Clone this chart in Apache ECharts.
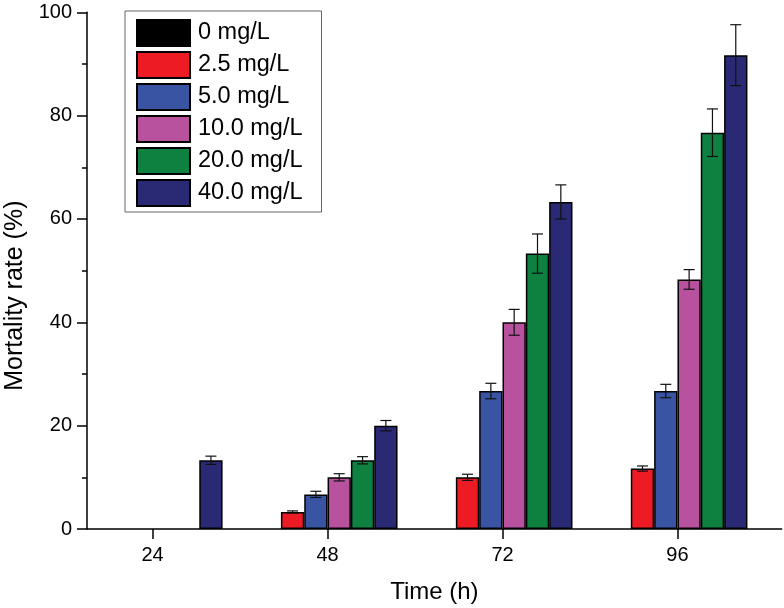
<!DOCTYPE html>
<html><head><meta charset="utf-8">
<script src="https://cdn.jsdelivr.net/npm/echarts@6/dist/echarts.min.js"></script>
<style>html,body{margin:0;padding:0;background:#fff}#c{width:784px;height:608px}</style>
</head><body><div id="c"></div>
<script>
// ---- data ----
const times = [24, 48, 72, 96];
const seriesNames = ['0 mg/L', '2.5 mg/L', '5.0 mg/L', '10.0 mg/L', '20.0 mg/L', '40.0 mg/L'];
const mort0   = [0, 0, 0, 0];
const mort25  = [0, 3.3, 10.0, 11.7];
const mort50  = [0, 6.7, 26.7, 26.7];
const mort100 = [0, 10.0, 40.0, 48.3];
const mort200 = [0, 13.3, 53.3, 76.7];
const mort400 = [13.3, 20.0, 63.3, 91.7];
const err0   = [0, 0, 0, 0];
const err25  = [0, 0.2, 0.6, 0.5];
const err50  = [0, 0.6, 1.5, 1.3];
const err100 = [0, 0.7, 2.5, 1.9];
const err200 = [0, 0.7, 3.8, 4.6];
const err400 = [0.8, 1.0, 3.3, 5.9];
const xTicks = [24, 48, 72, 96];
// ---- styling ----
const colors = ['#000000', '#ED1C24', '#3A54A4', '#B8519E', '#0E8140', '#292A73'];
const FONT = '"Liberation Sans", Arial, sans-serif';

const means = [mort0, mort25, mort50, mort100, mort200, mort400];
const errs = [err0, err25, err50, err100, err200, err400];
const nSeries = means.length;
const gap = times[1] - times[0];

const barSeries = means.map((arr, k) => ({
  name: seriesNames[k],
  type: 'bar',
  data: arr.map((v, i) => v === 0
    ? { value: [times[i], v], itemStyle: { borderWidth: 0 } }
    : [times[i], v]),
  barGap: '0%',
  barCategoryGap: '20%',
  itemStyle: { color: colors[k], borderColor: '#000', borderWidth: 1.5 },
  emphasis: { disabled: true },
  z: 2
}));

const errData = [];
means.forEach((arr, k) => arr.forEach((v, i) => {
  errData.push([times[i], v, errs[k][i], k]);
}));

const errSeries = {
  type: 'custom',
  data: errData,
  z: 5,
  silent: true,
  renderItem(params, api) {
    const x = api.value(0), y = api.value(1), e = api.value(2), k = api.value(3);
    if (!e) return null;
    const band = api.size([gap, 0])[0];
    const bw = band * 0.8 / nSeries;
    const cx = api.coord([x, y])[0] + (k - (nSeries - 1) / 2) * bw;
    const top = api.coord([x, y + e])[1];
    const bot = api.coord([x, y - e])[1];
    const cap = 5.5;
    const st = { stroke: '#111', lineWidth: 1.2 };
    return { type: 'group', children: [
      { type: 'line', shape: { x1: cx, y1: top, x2: cx, y2: bot }, style: st },
      { type: 'line', shape: { x1: cx - cap, y1: top, x2: cx + cap, y2: top }, style: st },
      { type: 'line', shape: { x1: cx - cap, y1: bot, x2: cx + cap, y2: bot }, style: st }
    ]};
  }
};

const chart = echarts.init(document.getElementById('c'), null, { renderer: 'canvas' });
chart.setOption({
  animation: false,
  backgroundColor: '#fff',
  textStyle: { fontFamily: FONT },
  grid: { left: 87, right: 2.3, top: 12.3, bottom: 79, containLabel: false, outerBoundsMode: 'none' },
  legend: {
    orient: 'vertical',
    left: 125, top: 11,
    itemWidth: 53, itemHeight: 26, itemGap: 4,
    padding: [8, 19, 5, 11],
    borderColor: '#666', borderWidth: 1,
    icon: 'rect',
    selectedMode: false,
    data: seriesNames,
    textStyle: { fontSize: 23.5, lineHeight: 26, color: '#000', fontFamily: FONT, padding: [0, 0, 0, 3] }
  },
  xAxis: {
    type: 'value',
    min: 15, max: 110.3,
    name: 'Time (h)',
    nameLocation: 'middle',
    nameGap: 51,
    nameTextStyle: { fontSize: 24, color: '#000', fontFamily: FONT },
    axisLine: { show: true, lineStyle: { color: '#000', width: 1.5 } },
    axisTick: { show: true, length: 10, lineStyle: { color: '#000', width: 1.5 }, customValues: xTicks },
    axisLabel: { fontSize: 20, color: '#000', margin: 16, customValues: xTicks, fontFamily: FONT },
    splitLine: { show: false }
  },
  yAxis: {
    type: 'value',
    min: 0, max: 100, interval: 20,
    name: 'Mortality rate (%)',
    nameLocation: 'middle',
    nameGap: 57,
    nameTextStyle: { fontSize: 25, color: '#000', fontFamily: FONT, padding: [0, 50, 0, 0] },
    axisLine: { show: true, lineStyle: { color: '#000', width: 1.5 } },
    axisTick: { show: true, length: 10, lineStyle: { color: '#000', width: 1.5 } },
    minorTick: { show: true, splitNumber: 2, length: 5, lineStyle: { color: '#000', width: 1.5 } },
    axisLabel: { fontSize: 20, color: '#000', margin: 15, fontFamily: FONT },
    splitLine: { show: false }
  },
  series: [...barSeries, errSeries]
});
</script>
</body></html>
